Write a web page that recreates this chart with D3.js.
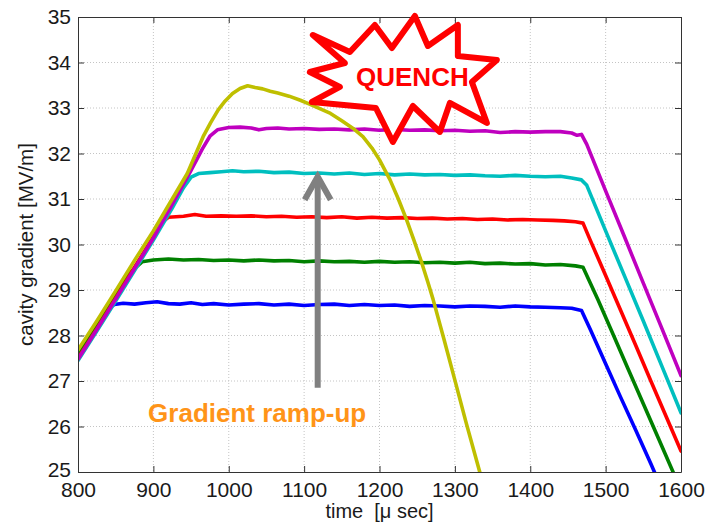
<!DOCTYPE html>
<html>
<head>
<meta charset="utf-8">
<script src="https://cdn.jsdelivr.net/npm/d3@7"></script>
<style>
  body { margin: 0; background: #fff; }
  svg { display: block; font-family: "Liberation Sans", Arial, sans-serif; }
  .line { fill: none; stroke-width: 3.6; stroke-linejoin: round; stroke-linecap: round; }
</style>
</head>
<body>
<div id="chart"></div>
<script>
// time in micro sec, gradient in MV/m
const xTicks = [800, 900, 1000, 1100, 1200, 1300, 1400, 1500, 1600];
const yTicks = [25, 26, 27, 28, 29, 30, 31, 32, 33, 34, 35];

const blue = [[800,27.52],[820,28.05],[840,28.58],[848,28.68],[860,28.71],[875,28.69],[890,28.72],[905,28.74],[920,28.70],[935,28.69],[950,28.72],[965,28.68],[980,28.70],[1000,28.67],[1020,28.69],[1040,28.70],[1060,28.67],[1080,28.69],[1100,28.66],[1120,28.68],[1140,28.69],[1160,28.66],[1180,28.68],[1200,28.66],[1220,28.67],[1240,28.64],[1260,28.66],[1280,28.65],[1300,28.63],[1320,28.65],[1340,28.64],[1360,28.62],[1380,28.65],[1400,28.63],[1420,28.62],[1440,28.61],[1455,28.60],[1468,28.55],[1480,28.12],[1500,27.38],[1520,26.64],[1540,25.92],[1560,25.18],[1570,24.8]];

const green = [[800,27.56],[825,28.23],[850,28.9],[870,29.4],[885,29.62],[900,29.66],[920,29.68],[940,29.66],[960,29.67],[980,29.65],[1000,29.66],[1020,29.64],[1040,29.66],[1060,29.64],[1080,29.65],[1100,29.62],[1120,29.64],[1140,29.62],[1160,29.63],[1180,29.61],[1200,29.63],[1220,29.61],[1240,29.62],[1260,29.60],[1280,29.61],[1300,29.59],[1320,29.61],[1340,29.58],[1360,29.59],[1380,29.57],[1400,29.58],[1420,29.55],[1440,29.56],[1460,29.53],[1470,29.5],[1490,28.78],[1510,28.02],[1530,27.26],[1550,26.5],[1570,25.74],[1590,24.98],[1600,24.6]];

const red = [[800,27.5],[825,28.15],[850,28.82],[875,29.5],[900,30.17],[912,30.5],[920,30.6],[940,30.62],[955,30.66],[970,30.62],[990,30.63],[1010,30.62],[1030,30.63],[1050,30.61],[1070,30.62],[1090,30.60],[1110,30.61],[1130,30.59],[1150,30.61],[1170,30.58],[1190,30.60],[1210,30.58],[1230,30.59],[1250,30.57],[1270,30.58],[1290,30.56],[1310,30.57],[1330,30.55],[1350,30.56],[1370,30.54],[1390,30.55],[1410,30.54],[1430,30.53],[1445,30.52],[1460,30.5],[1470,30.47],[1480,30.08],[1500,29.32],[1520,28.55],[1540,27.78],[1560,27.0],[1580,26.23],[1600,25.46]];

const cyan = [[800,27.45],[825,28.1],[850,28.76],[875,29.43],[900,30.1],[925,30.8],[940,31.25],[950,31.48],[960,31.56],[975,31.58],[990,31.6],[1005,31.62],[1020,31.6],[1040,31.61],[1060,31.58],[1080,31.59],[1100,31.56],[1120,31.57],[1140,31.55],[1160,31.57],[1180,31.54],[1200,31.56],[1220,31.53],[1240,31.55],[1260,31.53],[1280,31.54],[1300,31.52],[1320,31.53],[1340,31.51],[1360,31.5],[1380,31.52],[1400,31.5],[1420,31.49],[1440,31.5],[1455,31.46],[1468,31.42],[1475,31.3],[1500,30.3],[1525,29.31],[1550,28.32],[1575,27.31],[1600,26.3]];

const magenta = [[800,27.48],[825,28.13],[850,28.8],[875,29.47],[900,30.14],[925,30.88],[950,31.63],[965,32.1],[975,32.38],[985,32.52],[1000,32.57],[1015,32.58],[1030,32.56],[1040,32.52],[1050,32.55],[1065,32.56],[1080,32.54],[1100,32.55],[1120,32.53],[1140,32.54],[1160,32.52],[1180,32.54],[1200,32.51],[1220,32.53],[1240,32.51],[1260,32.52],[1280,32.5],[1300,32.51],[1320,32.49],[1340,32.5],[1360,32.46],[1380,32.48],[1400,32.47],[1420,32.48],[1440,32.48],[1455,32.45],[1462,32.4],[1468,32.42],[1475,32.2],[1500,31.18],[1525,30.17],[1550,29.15],[1575,28.14],[1600,27.12]];

const yellow = [[800,27.68],[825,28.32],[850,28.98],[875,29.65],[900,30.3],[925,31.0],[945,31.56],[966,32.37],[976,32.68],[986,32.96],[995,33.15],[1005,33.32],[1015,33.43],[1025,33.49],[1035,33.45],[1045,33.42],[1055,33.37],[1065,33.33],[1080,33.26],[1095,33.17],[1108,33.08],[1120,32.99],[1135,32.88],[1150,32.72],[1165,32.55],[1178,32.37],[1190,32.12],[1200,31.86],[1214,31.42],[1225,31.0],[1236,30.54],[1246,30.08],[1256,29.6],[1264,29.18],[1271,28.8],[1285,27.95],[1300,27.02],[1315,26.08],[1333,25.0],[1340,24.6]];

const seriesList = [blue, green, red, cyan, magenta, yellow];
const colors = ["#0000ff", "#008000", "#ff0000", "#00bfbf", "#bf00bf", "#bfbf00"];

const margin = {top: 17, right: 27, bottom: 54, left: 78};
const width = 708 - margin.left - margin.right;
const height = 526 - margin.top - margin.bottom;

const svg = d3.select("#chart").append("svg")
    .attr("width", 708)
    .attr("height", 526);

const chart = svg.append("g")
    .attr("transform", "translate(" + margin.left + "," + margin.top + ")");

const x = d3.scaleLinear().domain([800, 1600]).range([0, width]);
const y = d3.scaleLinear().domain([25, 35]).range([height, 0]);

// grid
chart.append("g").selectAll("line")
    .data(xTicks.slice(1, -1))
    .enter().append("line")
    .attr("x1", d => x(d)).attr("x2", d => x(d))
    .attr("y1", 0).attr("y2", height)
    .attr("stroke", "#c4c4c4").attr("stroke-dasharray", "1,2");

chart.append("g").selectAll("line")
    .data(yTicks.slice(1, -1))
    .enter().append("line")
    .attr("y1", d => y(d)).attr("y2", d => y(d))
    .attr("x1", 0).attr("x2", width)
    .attr("stroke", "#c4c4c4").attr("stroke-dasharray", "1,2");

chart.append("clipPath").attr("id", "clip")
    .append("rect").attr("width", width).attr("height", height);

const line = d3.line()
    .x(d => x(d[0]))
    .y(d => y(d[1]));

chart.append("g").attr("clip-path", "url(#clip)")
    .selectAll("path")
    .data(seriesList)
    .enter().append("path")
    .attr("class", "line")
    .attr("stroke", (d, i) => colors[i])
    .attr("d", line);

// axes (box with inward ticks on all sides)
const axisColor = "#333";
const xAxis = chart.append("g")
    .attr("transform", "translate(0," + height + ")")
    .call(d3.axisBottom(x).tickValues(xTicks).tickFormat(d3.format("d")).tickSizeInner(-6).tickSizeOuter(0).tickPadding(10));
const yAxis = chart.append("g")
    .call(d3.axisLeft(y).tickValues(yTicks).tickSizeInner(-6).tickSizeOuter(0).tickPadding(7));
chart.append("g")
    .call(d3.axisTop(x).tickValues(xTicks).tickSizeInner(-6).tickSizeOuter(0).tickFormat(""));
chart.append("g")
    .attr("transform", "translate(" + width + ",0)")
    .call(d3.axisRight(y).tickValues(yTicks).tickSizeInner(-6).tickSizeOuter(0).tickFormat(""));

chart.selectAll(".domain").attr("stroke", axisColor);
chart.selectAll(".tick line").attr("stroke", axisColor);
chart.selectAll(".tick text")
    .attr("font-family", "'Liberation Sans', Arial, sans-serif")
    .attr("font-size", 21)
    .attr("fill", "#1a1a1a");
// lift the lowest y label a little so it clears the 800 label
yAxis.selectAll(".tick text").filter(d => d === 25).attr("dy", "0.2em");

chart.append("text")
    .attr("x", width / 2)
    .attr("y", height + 46)
    .attr("text-anchor", "middle")
    .attr("font-size", 20)
    .attr("fill", "#1a1a1a")
    .attr("xml:space", "preserve")
    .text("time  [\u03bc sec]");

chart.append("text")
    .attr("transform", "rotate(-90)")
    .attr("x", -height / 2)
    .attr("y", -45)
    .attr("text-anchor", "middle")
    .attr("font-size", 20.5)
    .attr("fill", "#1a1a1a")
    .text("cavity gradient [MV/m]");

// arrow
const arrowX = x(1118);
chart.append("line")
    .attr("x1", arrowX).attr("x2", arrowX)
    .attr("y1", y(26.85)).attr("y2", y(31.4))
    .attr("stroke", "#808080").attr("stroke-width", 6);
chart.append("path")
    .attr("d", "M" + (arrowX - 13) + "," + (y(31.49) + 23) + "L" + arrowX + "," + y(31.49) + "L" + (arrowX + 13) + "," + (y(31.49) + 23))
    .attr("fill", "none")
    .attr("stroke", "#808080").attr("stroke-width", 6)
    .attr("stroke-linejoin", "miter");

chart.append("text")
    .attr("x", x(893))
    .attr("y", y(26.1))
    .attr("font-size", 26)
    .attr("font-weight", "bold")
    .attr("fill", "#ff9418")
    .text("Gradient ramp-up");

// quench star (offsets in px around anchor)
const starPts = [[-90,-43],[-53,-26],[-28,-53],[-11,-30],[12,-62],[25,-32],[55,-53],[55,-22],[94,-18],[69,4],[84,45],[47,25],[37,54],[10,28],[-10,64],[-27,30],[-91,24],[-63,9],[-93,-6],[-58,-15]];
const starX = x(1231), starY = y(33.66);
chart.append("path")
    .attr("d", "M" + starPts.map(p => (starX + p[0]) + "," + (starY + p[1])).join("L") + "Z")
    .attr("fill", "#fff")
    .attr("stroke", "#ff0000")
    .attr("stroke-width", 6)
    .attr("stroke-linejoin", "round");

chart.append("text")
    .attr("x", starX + 9.5)
    .attr("y", starY + 8)
    .attr("text-anchor", "middle")
    .attr("font-size", 26)
    .attr("font-weight", "bold")
    .attr("fill", "#ff0000")
    .text("QUENCH");
</script>
</body>
</html>
